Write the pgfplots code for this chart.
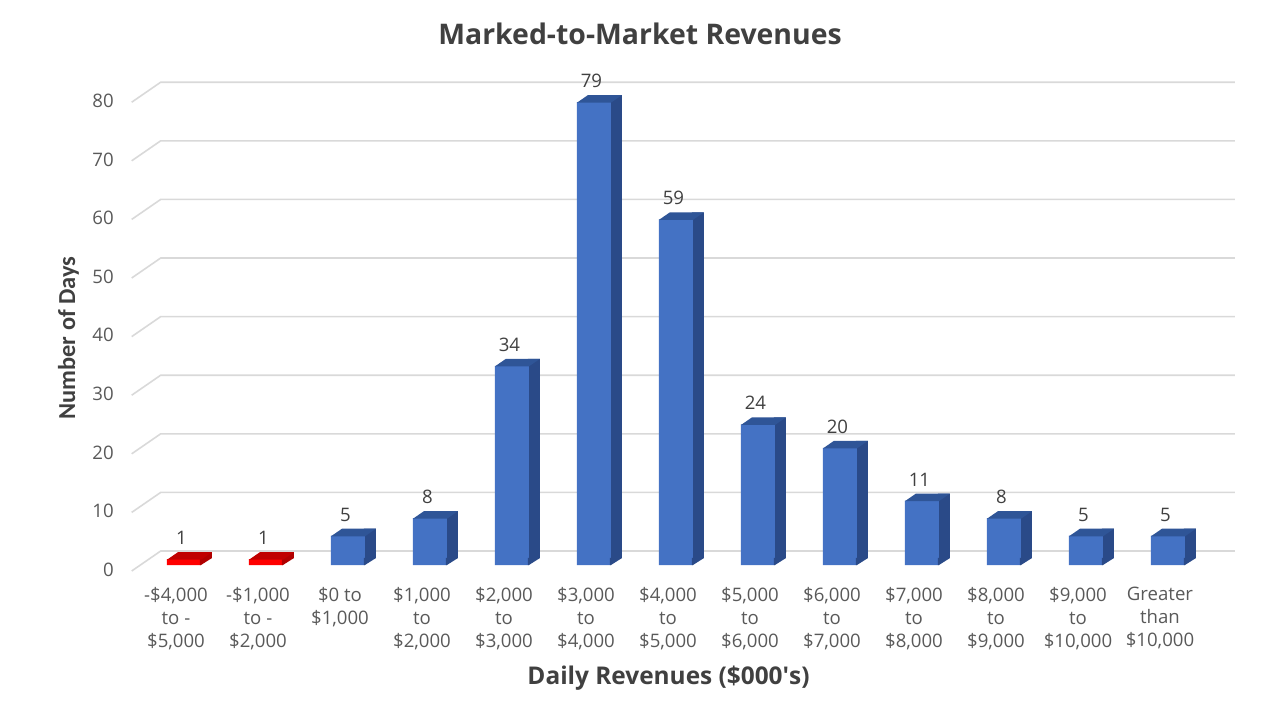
\documentclass[border=0pt]{standalone}
\usepackage{pgfplots}
\usepackage{pgfplotstable}
\pgfplotsset{compat=1.18}
\usepackage{fontspec}
\setmainfont{Open Sans}
\newfontfamily\carlito{Carlito}
\definecolor{frontblue}{HTML}{4472C4}
\definecolor{topblue}{HTML}{2F5597}
\definecolor{sideblue}{HTML}{2A4A88}
\definecolor{frontred}{HTML}{FF0000}
\definecolor{topred}{HTML}{C00000}
\definecolor{sidered}{HTML}{B00000}
\definecolor{gridgray}{HTML}{D9D9D9}
\definecolor{txt}{HTML}{595959}
\definecolor{dark}{HTML}{404040}
\newcommand\tickfont{\fontsize{9.3}{11.5}\selectfont}

\pgfplotstableread{
x y
2 5
3 8
4 34
5 79
6 59
7 24
8 20
9 11
10 8
11 5
12 5
}\bluedata
\pgfplotstableread{
x y
0 1
1 1
}\reddata

\pgfdeclareplotmark{topface}{%
  \pgfpathmoveto{\pgfqpoint{-4.5pt}{-0.3pt}}%
  \pgfpathlineto{\pgfqpoint{12.5pt}{-0.3pt}}%
  \pgfpathlineto{\pgfqpoint{18pt}{3.5pt}}%
  \pgfpathlineto{\pgfqpoint{1pt}{3.5pt}}%
  \pgfpathclose
  \pgfusepath{fill}}
\pgfdeclareplotmark{basetri}{%
  \pgfpathmoveto{\pgfqpoint{12pt}{0pt}}%
  \pgfpathlineto{\pgfqpoint{12.5pt}{0pt}}%
  \pgfpathlineto{\pgfqpoint{18pt}{3.5pt}}%
  \pgfpathlineto{\pgfqpoint{12pt}{3.6pt}}%
  \pgfpathclose
  \pgfusepath{fill}}

\begin{document}
\begin{tikzpicture}
\path[use as bounding box] (0,0) rectangle (640pt,360pt);
\begin{axis}[
  at={(65.85pt,77.5pt)}, anchor=south west,
  scale only axis, width=537.1pt, height=249.05pt,
  xmin=-0.54, xmax=12.56, ymin=0, ymax=85,
  axis line style={draw=none},
  tick style={draw=none},
  clip=false,
  xtick={0,...,12},
  xticklabels={{-\$4,000\\to -\\\$5,000},{-\$1,000\\to -\\\$2,000},{\$0 to\\\$1,000},
    {\$1,000\\to\\\$2,000},{\$2,000\\to\\\$3,000},{\$3,000\\to\\\$4,000},
    {\$4,000\\to\\\$5,000},{\$5,000\\to\\\$6,000},{\$6,000\\to\\\$7,000},
    {\$7,000\\to\\\$8,000},{\$8,000\\to\\\$9,000},{\$9,000\\to\\\$10,000},
    {Greater\\than\\\$10,000}},
  xticklabel style={font=\tickfont, text=txt, align=center, anchor=north, inner sep=0pt, yshift=-11pt},
  ytick={0,10,...,80},
  yticklabel style={font=\tickfont, text=txt, anchor=east, inner sep=0pt, xshift=-8.8pt, yshift=-2.3pt},
  /pgf/number format/assume math mode=true,
]
% grid lines on the back wall with the floor diagonal at the left
\pgfplotsinvokeforeach{0,10,...,80}{
  \draw[gridgray, line width=0.8pt] ([yshift=-3pt]axis cs:-0.54,#1) -- ([xshift=14.5pt,yshift=7pt]axis cs:-0.54,#1) -- ([xshift=14.5pt,yshift=7pt]axis cs:12.56,#1);
}
% red series
\addplot[ybar, bar width=6pt, bar shift=15pt, fill=sidered, draw=none, transform canvas={yshift=3.5pt}] table[x=x,y=y]{\reddata};
\addplot[only marks, mark=basetri, fill=sidered, draw=none, mark options={fill=sidered, draw=none}] table[x=x, y expr=0]{\reddata};
\addplot[only marks, mark=topface, fill=topred, draw=none, mark options={fill=topred, draw=none}] table[x=x,y=y]{\reddata};
\addplot[ybar, bar width=17pt, bar shift=4pt, fill=frontred, draw=none,
  nodes near coords, every node near coord/.append style={font=\tickfont, text=dark, anchor=south, inner sep=0pt, yshift=7pt, xshift=2.75pt}] table[x=x,y=y]{\reddata};
% blue series
\addplot[ybar, bar width=6pt, bar shift=15pt, fill=sideblue, draw=none, transform canvas={yshift=3.5pt}] table[x=x,y=y]{\bluedata};
\addplot[only marks, mark=basetri, fill=sideblue, draw=none, mark options={fill=sideblue, draw=none}] table[x=x, y expr=0]{\bluedata};
\addplot[only marks, mark=topface, fill=topblue, draw=none, mark options={fill=topblue, draw=none}] table[x=x,y=y]{\bluedata};
\addplot[ybar, bar width=17pt, bar shift=4pt, fill=frontblue, draw=none,
  nodes near coords, every node near coord/.append style={font=\tickfont, text=dark, anchor=south, inner sep=0pt, yshift=7pt, xshift=2.75pt}] table[x=x,y=y]{\bluedata};
\end{axis}
\node[font=\fontsize{14.2}{17}\selectfont\bfseries, text=dark] at (320pt,343pt) {Marked-to-Market Revenues};
\node[font=\fontsize{12.2}{14}\selectfont\bfseries, text=dark, anchor=base] at (334.25pt,17.75pt) {Daily Revenues (\$000\textquotesingle s)};
\node[font=\carlito\fontsize{12.2}{14}\selectfont\bfseries, text=dark, rotate=90, anchor=base] at (37.5pt,191pt) {Number of Days};
\end{tikzpicture}
\end{document}
